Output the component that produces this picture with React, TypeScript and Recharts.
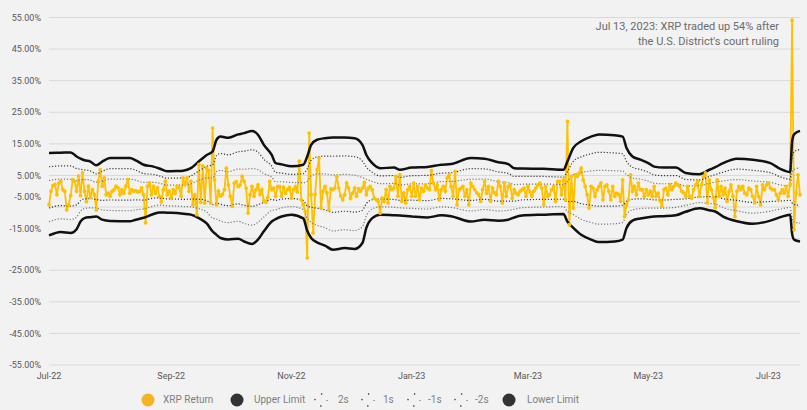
import { LineChart, Line, XAxis, YAxis, CartesianGrid } from 'recharts'

// daily XRP return (%), Jul 1 2022 = day 0
const xrpReturn = [
  -4.3, 0.0, 1.8, 2.2, -1.1, 2.6, 3.2, 0.5, 0.0, -5.9,
  -4.3, -1.4, 3.7, 3.2, 0.0, 4.8, -1.4, 5.8, 0.0, -3.3,
  1.6, -2.0, 0.5, -1.1, -5.9, 3.2, 6.8, 1.6, 4.2, -1.1,
  -0.6, -1.6, 0.0, 0.5, 1.6, 1.1, -1.1, 0.5, -0.6, 1.6,
  3.7, -0.6, 0.5, 0.0, 0.2, -0.2, 0.0, 1.1, -1.1, -10.0,
  1.6, 2.6, -1.1, 1.6, -0.6, 1.1, -1.6, -3.3, 0.5, 3.2,
  -1.1, 0.0, -2.0, 0.5, -0.6, 1.6, 1.1, -1.6, 4.2, 2.1,
  4.2, 0.0, 3.2, -4.3, -1.1, -7.4, 8.5, -3.5, 8.0, -3.7,
  7.3, 6.5, -3.7, 20.0, 3.6, -4.3, 0.0, -1.5, -1.0, 0.5,
  7.3, 2.0, -1.6, -4.8, 2.6, 3.0, 1.5, 2.0, 4.7, 3.1,
  1.0, -6.9, -1.1, 1.5, -1.6, 0.5, 2.0, -1.0, 0.5, -3.0,
  -3.5, -2.0, 3.1, 0.5, 1.0, -1.6, 1.5, 1.5, -1.6, 1.2,
  -0.6, 0.5, 1.2, -2.2, 0.5, 1.5, -0.2, 9.5, -2.7, -4.3,
  -6.4, -21.1, 18.4, -1.1, -13.2, -1.0, 6.8, 10.5, -5.3, 0.0,
  1.5, -0.5, -5.9, 0.8, 0.5, 1.0, 4.7, 1.0, -1.5, -2.7,
  -1.1, 2.6, 1.0, -2.2, -0.6, 1.0, -1.6, 0.8, 0.0, 1.0,
  2.8, -1.1, 1.0, 1.5, 0.5, -2.2, -2.7, -3.2, -6.9, -2.2,
  -3.2, 0.5, -3.7, 1.5, 0.5, 1.0, 4.7, -1.6, 5.2, -3.2,
  -0.5, -3.7, 0.5, 1.5, -1.6, 2.6, -1.6, 1.5, -2.7, 1.0,
  0.0, 2.0, 1.0, 0.5, 6.5, 2.6, 0.5, 2.0, -2.7, 0.5,
  1.5, 0.0, 4.2, 5.2, 1.5, -1.6, 6.3, -4.3, 0.5, 1.0,
  1.5, -1.6, 0.5, -4.3, 2.6, 1.5, 0.5, -0.5, -1.1, -3.2,
  0.5, 3.1, -0.6, 1.5, -3.2, 1.0, -0.5, -1.1, 3.1, 1.5,
  -3.7, 2.6, -1.6, 1.5, 2.0, -2.2, 0.5, -0.6, -1.1, 0.0,
  0.5, 1.0, -1.6, 1.5, -0.2, -1.6, 0.0, 1.0, 2.0, 2.6,
  1.0, -4.3, 1.5, -1.6, -1.1, 0.5, 1.5, -3.2, 3.1, 3.1,
  -1.1, 3.6, -2.7, 22.1, -10.6, 4.7, -5.3, 5.2, 4.7, 5.8,
  7.3, 3.6, 1.5, -1.1, -5.3, 1.5, 1.0, -1.6, 0.5, 1.5,
  2.6, -2.7, 1.5, 2.0, 0.0, -2.7, 1.5, -1.6, -0.6, -1.0,
  -3.2, 3.6, -8.0, -4.3, -2.7, 5.2, 0.0, 1.5, -1.1, 2.6,
  0.5, 0.5, -1.6, 0.5, -1.1, 0.0, -1.6, 1.5, -1.6, -0.6,
  -3.0, -4.8, 0.5, 1.0, -1.1, 2.0, 0.5, 1.5, 2.6, 2.0,
  1.5, 0.0, -0.5, -1.6, 1.5, -1.6, -2.2, 0.5, 2.0, 3.1,
  -1.6, 2.0, 4.7, 5.8, -3.7, 3.6, 0.5, -2.0, -5.2, 3.6,
  -1.6, 1.5, -1.1, 1.0, -3.2, 0.0, 2.0, -1.6, -8.0, 0.0,
  1.5, 0.5, 1.5, -0.6, -1.1, 1.0, 0.5, -1.6, -3.7, 1.5,
  -1.6, -4.3, 2.0, 0.5, 2.0, 2.6, 1.0, 0.5, 0.5, -1.1,
  -2.7, -0.6, 0.5, -0.6, 1.5, -1.6, 2.0, 54.2, -12.2, -0.5,
  5.2, -1.1,
]

// band lines, read at these days
const bandDay = [
  0, 6, 11, 14, 16, 18, 21, 24, 27, 31,
  41, 44, 48, 53, 56, 60, 65, 68, 72, 76,
  80, 83, 85, 87, 91, 96, 99, 103, 106, 109,
  113, 115, 118, 123, 129, 131, 133, 136, 140, 144,
  150, 155, 159, 161, 164, 168, 175, 178, 184, 192,
  199, 204, 214, 221, 228, 233, 236, 240, 251, 261,
  263, 266, 270, 275, 279, 287, 291, 293, 296, 300,
  304, 307, 312, 318, 323, 330, 335, 338, 342, 349,
  357, 366, 371, 376, 377, 378, 381,
]

const upperLimit = [
  12.1, 12.2, 12.3, 11.0, 10.3, 9.8, 9.4, 8.2, 9.4, 10.5,
  10.5, 9.8, 8.4, 7.8, 7.2, 6.3, 6.4, 6.5, 7.3, 9.4,
  11.5, 12.6, 16.3, 17.3, 16.9, 18.0, 18.4, 19.1, 17.9, 14.7,
  11.5, 8.9, 8.5, 7.9, 8.4, 11.0, 14.7, 16.3, 16.8, 17.0,
  17.0, 16.8, 14.7, 11.5, 8.9, 7.3, 7.5, 6.8, 7.5, 7.7,
  8.4, 8.6, 10.5, 10.3, 9.2, 8.6, 7.3, 7.2, 7.1, 6.8,
  9.4, 13.7, 15.8, 17.3, 18.0, 17.7, 17.3, 13.7, 11.0, 10.0,
  8.9, 7.8, 7.5, 7.5, 5.8, 5.4, 6.8, 7.6, 8.9, 10.3,
  10.0, 8.9, 7.1, 6.1, 15.8, 18.0, 19.1,
]

const sigma2 = [
  7.75, 8.02, 8.05, 7.17, 6.98, 6.75, 6.47, 5.5, 6.33, 7.18,
  7.17, 6.67, 5.6, 5.3, 4.88, 4.12, 4.18, 4.23, 4.85, 6.42,
  7.88, 8.38, 11.28, 11.95, 11.53, 12.5, 12.68, 13.13, 12.37, 10.13,
  7.98, 5.95, 5.75, 5.35, 5.57, 7.08, 9.78, 10.88, 11.13, 11.08,
  11.17, 10.95, 9.52, 7.65, 6.0, 4.85, 4.98, 4.38, 4.92, 5.03,
  5.73, 5.85, 7.15, 7.08, 6.12, 5.67, 4.7, 4.72, 4.68, 4.47,
  6.23, 9.48, 10.87, 11.87, 12.32, 12.1, 11.87, 9.48, 7.62, 6.9,
  6.05, 5.17, 4.93, 4.98, 3.75, 3.6, 4.67, 5.27, 6.08, 7.0,
  6.62, 5.87, 4.55, 3.85, 10.92, 12.45, 13.27,
]

const sigma1 = [
  3.4, 3.84, 3.8, 3.33, 3.67, 3.7, 3.53, 2.8, 3.27, 3.87,
  3.83, 3.53, 2.8, 2.8, 2.57, 1.93, 1.97, 1.97, 2.4, 3.43,
  4.27, 4.17, 6.27, 6.6, 6.17, 7.0, 6.97, 7.17, 6.83, 5.57,
  4.47, 3.0, 3.0, 2.8, 2.73, 3.17, 4.87, 5.47, 5.47, 5.17,
  5.33, 5.1, 4.33, 3.8, 3.1, 2.4, 2.47, 1.97, 2.33, 2.37,
  3.07, 3.1, 3.8, 3.87, 3.03, 2.73, 2.1, 2.23, 2.27, 2.13,
  3.07, 5.27, 5.93, 6.43, 6.63, 6.5, 6.43, 5.27, 4.23, 3.8,
  3.2, 2.53, 2.37, 2.47, 1.7, 1.8, 2.53, 2.93, 3.27, 3.7,
  3.23, 2.83, 2.0, 1.6, 6.03, 6.9, 7.43,
]

const sigmaMinus1 = [
  -5.3, -4.54, -4.7, -4.33, -2.97, -2.4, -2.33, -2.6, -2.87, -2.77,
  -2.83, -2.73, -2.8, -2.2, -2.07, -2.43, -2.47, -2.57, -2.5, -2.53,
  -2.97, -4.27, -3.77, -4.1, -4.57, -4.0, -4.47, -4.77, -4.23, -3.57,
  -2.57, -2.9, -2.5, -2.3, -2.93, -4.67, -5.03, -5.37, -5.87, -6.67,
  -6.33, -6.6, -6.03, -3.9, -2.7, -2.5, -2.57, -2.87, -2.83, -2.97,
  -2.27, -2.4, -2.9, -2.57, -3.13, -3.13, -3.1, -2.73, -2.57, -2.53,
  -3.27, -3.17, -3.93, -4.43, -4.73, -4.7, -4.43, -3.17, -2.53, -2.4,
  -2.5, -2.73, -2.77, -2.57, -2.4, -1.8, -1.73, -1.73, -2.37, -2.9,
  -3.53, -3.23, -3.1, -2.9, -3.73, -4.2, -4.43,
]

const sigmaMinus2 = [
  -9.65, -8.72, -8.95, -8.17, -6.28, -5.45, -5.27, -5.3, -5.93, -6.08,
  -6.17, -5.87, -5.6, -4.7, -4.38, -4.62, -4.68, -4.83, -4.95, -5.52,
  -6.58, -8.48, -8.78, -9.45, -9.93, -9.5, -10.18, -10.73, -9.77, -8.13,
  -6.08, -5.85, -5.25, -4.85, -5.77, -8.58, -9.88, -10.78, -11.53, -12.58,
  -12.17, -12.45, -11.22, -7.75, -5.6, -4.95, -5.08, -5.28, -5.42, -5.63,
  -4.93, -5.15, -6.25, -5.78, -6.22, -6.07, -5.7, -5.22, -4.98, -4.87,
  -6.43, -7.38, -8.87, -9.87, -10.42, -10.3, -9.87, -7.38, -5.92, -5.5,
  -5.35, -5.37, -5.33, -5.08, -4.45, -3.6, -3.87, -4.07, -5.18, -6.2,
  -6.92, -6.27, -5.65, -5.15, -8.62, -9.75, -10.07,
]

const lowerLimit = [
  -14.0, -12.9, -13.2, -12.0, -9.6, -8.5, -8.2, -8.0, -9.0, -9.4,
  -9.5, -9.0, -8.4, -7.2, -6.7, -6.8, -6.9, -7.1, -7.4, -8.5,
  -10.2, -12.7, -13.8, -14.8, -15.3, -15.0, -15.9, -16.7, -15.3, -12.7,
  -9.6, -8.8, -8.0, -7.4, -8.6, -12.5, -14.8, -16.2, -17.2, -18.5,
  -18.0, -18.3, -16.4, -11.6, -8.5, -7.4, -7.6, -7.7, -8.0, -8.3,
  -7.6, -7.9, -9.6, -9.0, -9.3, -9.0, -8.3, -7.7, -7.4, -7.2,
  -9.6, -11.6, -13.8, -15.3, -16.1, -15.9, -15.3, -11.6, -9.3, -8.6,
  -8.2, -8.0, -7.9, -7.6, -6.5, -5.4, -6.0, -6.4, -8.0, -9.5,
  -10.3, -9.3, -8.2, -7.4, -13.5, -15.3, -15.9,
]

const monthTickDays = [0, 62, 123, 184, 243, 304, 365]
const monthLabels = ['Jul-22', 'Sep-22', 'Nov-22', 'Jan-23', 'Mar-23', 'May-23', 'Jul-23']
const yTicks = [-55, -45, -35, -25, -15, -5, 5, 15, 25, 35, 45, 55]

const data: any[] = xrpReturn.map((v, i) => ({ day: i, ret: v }))
bandDay.forEach((d, i) => {
  Object.assign(data[d], {
    upper: upperLimit[i],
    s2: sigma2[i],
    s1: sigma1[i],
    m1: sigmaMinus1[i],
    m2: sigmaMinus2[i],
    lower: lowerLimit[i],
  })
})

const FONT = 'Roboto, sans-serif'
const GOLD = '#FFC000'

const YTick = ({ x, y, payload }: any) => {
  const v = payload.value
  // the original chart draws these two labels a bit higher
  const shift = v === -5 || v === -15 ? -10 : 0
  return (
    <text x={x} y={y + shift} dy="0.35em" textAnchor="end" fill="#595959" fontSize={9} fontFamily={FONT}>
      {v.toFixed(2)}%
    </text>
  )
}

const legendItems = [
  { label: 'XRP Return', kind: 'dot', color: '#F5B324', icon: 148, text: 163 },
  { label: 'Upper Limit', kind: 'dot', color: '#333333', icon: 237, text: 254 },
  { label: '2s', kind: 'dash', color: '#333333', icon: 321, text: 338 },
  { label: '1s', kind: 'dash', color: '#333333', icon: 368, text: 383 },
  { label: '-1s', kind: 'dash', color: '#333333', icon: 414, text: 428 },
  { label: '-2s', kind: 'dash', color: '#333333', icon: 461, text: 475 },
  { label: 'Lower Limit', kind: 'dot', color: '#333333', icon: 509, text: 527 },
]

export default function App() {
  return (
    <div style={{ position: 'absolute', left: 0, top: 0, width: 807, height: 410, background: '#f2f2f2', fontFamily: FONT }}>
      <LineChart width={807} height={410} data={data} margin={{ top: 17.5, right: 7, left: 0, bottom: 25 }}>
        <CartesianGrid vertical={false} stroke="#d9d9d9" />
        <XAxis
          type="number"
          dataKey="day"
          domain={[0, 381]}
          ticks={monthTickDays}
          tickFormatter={(v) => monthLabels[monthTickDays.indexOf(v)]}
          axisLine={false}
          tickLine={false}
          tickSize={0}
          tickMargin={8}
          height={20}
          tick={{ fill: '#595959', fontSize: 9, fontFamily: FONT }}
        />
        <YAxis
          domain={[-55, 55]}
          ticks={yTicks}
          axisLine={false}
          tickLine={false}
          tickSize={0}
          tickMargin={8}
          width={49}
          tick={<YTick />}
        />
        <Line dataKey="ret" stroke={GOLD} strokeWidth={1.8} dot={{ r: 1.9, fill: GOLD, stroke: GOLD, strokeWidth: 0 }} isAnimationActive={false} />
        <Line dataKey="upper" type="monotone" connectNulls stroke="#111" strokeWidth={2.5} dot={false} isAnimationActive={false} />
        <Line dataKey="s2" type="monotone" connectNulls stroke="#3a3a3a" strokeWidth={1.2} strokeDasharray="1.2 1.8" dot={false} isAnimationActive={false} />
        <Line dataKey="s1" type="monotone" connectNulls stroke="#7a7a7a" strokeWidth={1.2} strokeDasharray="1.2 1.8" dot={false} isAnimationActive={false} />
        <Line dataKey="m1" type="monotone" connectNulls stroke="#3a3a3a" strokeWidth={1.2} strokeDasharray="1.2 1.8" dot={false} isAnimationActive={false} />
        <Line dataKey="m2" type="monotone" connectNulls stroke="#7a7a7a" strokeWidth={1.2} strokeDasharray="1.2 1.8" dot={false} isAnimationActive={false} />
        <Line dataKey="lower" type="monotone" connectNulls stroke="#111" strokeWidth={2.5} dot={false} isAnimationActive={false} />
      </LineChart>

      <div style={{ position: 'absolute', right: 28, top: 19, textAlign: 'right', fontSize: 11, lineHeight: '15px', color: '#6b6b6b' }}>
        Jul 13, 2023: XRP traded up 54% after
        <br />
        the U.S. District's court ruling
      </div>

      {legendItems.map((it) => (
        <div key={it.label}>
          <svg style={{ position: 'absolute', left: it.icon - 8, top: 392 }} width={16} height={16}>
            {it.kind === 'dot' ? (
              <circle cx={8} cy={8} r={6.5} fill={it.color} />
            ) : (
              <circle cx={8} cy={8} r={6} fill="none" stroke={it.color} strokeWidth={1.3} strokeDasharray="1.4 8" strokeDashoffset={0.7} />
            )}
          </svg>
          <span style={{ position: 'absolute', left: it.text, top: 393, fontSize: 10, lineHeight: '14px', color: '#7f7f7f' }}>
            {it.label}
          </span>
        </div>
      ))}
    </div>
  )
}
